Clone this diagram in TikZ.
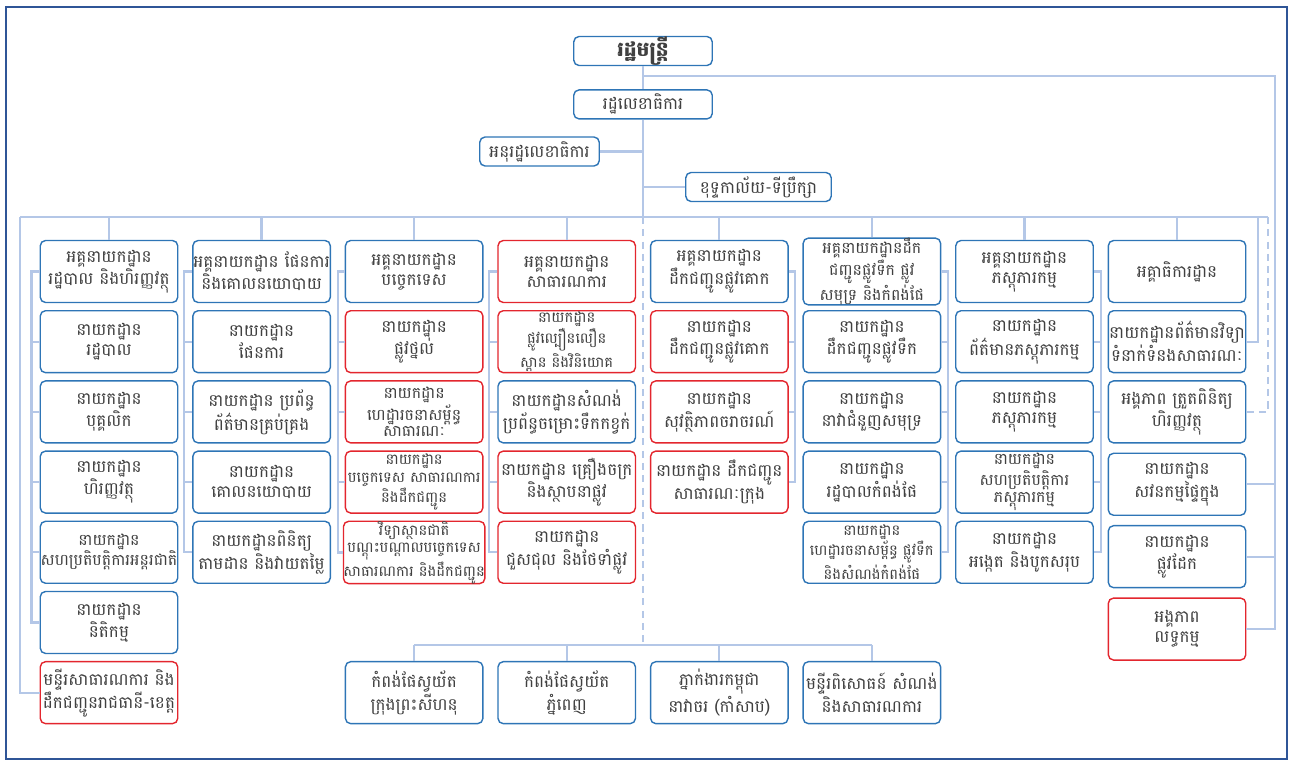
\documentclass[tikz,border=0pt]{standalone}
\usepackage{fontspec}
\newfontfamily\khmer[Script=Khmer]{Battambang}
\usetikzlibrary{positioning}
\definecolor{boxblue}{HTML}{2E75B6}
\definecolor{boxred}{HTML}{E3262E}
\definecolor{linkblue}{HTML}{B4C7E7}
\definecolor{textgray}{HTML}{404040}
\definecolor{frameblue}{HTML}{2F5597}

\begin{document}
\begin{tikzpicture}[x=0.02cm, y=-0.02cm,
  box/.style={draw=boxblue, line width=0.8pt, rounded corners=3pt, fill=white, text=textgray,
    align=center, inner xsep=0pt, inner ysep=0pt, minimum width=2.75cm, minimum height=1.24cm,
    font=\khmer\fontsize{9.6}{11.4}\selectfont},
  redbox/.style={box, draw=boxred},
  smalltext/.style={font=\khmer\fontsize{8.4}{9.8}\selectfont},
  three/.style={font=\khmer\fontsize{9}{9.6}\selectfont},
  tight/.style={font=\khmer\fontsize{9}{11.4}\selectfont},
  topbox/.style={box, minimum height=0.58cm},
  link/.style={draw=linkblue, line width=1.3pt},
  dlink/.style={link, dashed, dash pattern=on 4pt off 3pt}]
\useasboundingbox (0,0) rectangle (1290,764);
\draw[frameblue, line width=0.8pt] (6,7) rectangle (1287,759);

\node (minister) [topbox, minimum width=2.77cm, font=\khmer\bfseries\fontsize{11.5}{12}\selectfont] at (643,51) {រដ្ឋមន្ត្រី};
\node (secretary) [topbox, minimum width=2.77cm, below=0.46cm of minister] {រដ្ឋលេខាធិការ};
\node (under) [topbox, minimum width=2.39cm] at (539.5,151.5) {អនុរដ្ឋលេខាធិការ};
\node (cabinet) [topbox, minimum width=2.91cm] at (758.5,187) {ខុទ្ទកាល័យ-ទីប្រឹក្សា};

\node (g1) [box] at (109,271.5) {អគ្គនាយកដ្ឋាន\\រដ្ឋបាល និងហិរញ្ញវត្ថុ};
\node (a1) [box, below=0.136cm of g1] {នាយកដ្ឋាន\\រដ្ឋបាល};
\node (a2) [box, below=0.136cm of a1] {នាយកដ្ឋាន\\បុគ្គលិក};
\node (a3) [box, below=0.136cm of a2] {នាយកដ្ឋាន\\ហិរញ្ញវត្ថុ};
\node (a4) [box, tight, below=0.136cm of a3] {នាយកដ្ឋាន\\សហប្រតិបត្តិការអន្តរជាតិ};
\node (a5) [box, below=0.136cm of a4] {នាយកដ្ឋាន\\និតិកម្ម};
\node (prov) [redbox, below=0.136cm of a5] {មន្ទីរសាធារណការ និង\\ដឹកជញ្ជូនរាជធានី-ខេត្ត};

\node (g2) [box, right=0.274cm of g1] {អគ្គនាយកដ្ឋាន ផែនការ\\និងគោលនយោបាយ};
\node (b1) [box, below=0.136cm of g2] {នាយកដ្ឋាន\\ផែនការ};
\node (b2) [box, below=0.136cm of b1] {នាយកដ្ឋាន ប្រព័ន្ធ\\ព័ត៌មានគ្រប់គ្រង};
\node (b3) [box, below=0.136cm of b2] {នាយកដ្ឋាន\\គោលនយោបាយ};
\node (b4) [box, below=0.136cm of b3] {នាយកដ្ឋានពិនិត្យ\\តាមដាន និងវាយតម្លៃ};

\node (g3) [box, right=0.274cm of g2] {អគ្គនាយកដ្ឋាន\\បច្ចេកទេស};
\node (c1) [redbox, below=0.136cm of g3] {នាយកដ្ឋាន\\ផ្លូវថ្នល់};
\node (c2) [redbox, three, below=0.136cm of c1] {នាយកដ្ឋាន\\ហេដ្ឋារចនាសម្ព័ន្ធ\\សាធារណៈ};
\node (c3) [redbox, smalltext, below=0.136cm of c2] {នាយកដ្ឋាន\\បច្ចេកទេស សាធារណការ\\និងដឹកជញ្ជូន};
\node (c4) [redbox, smalltext, below=0.136cm of c3] {វិទ្យាស្ថានជាតិ\\បណ្តុះបណ្តាលបច្ចេកទេស\\សាធារណការ និងដឹកជញ្ជូន};

\node (g4) [redbox, right=0.274cm of g3] {អគ្គនាយកដ្ឋាន\\សាធារណការ};
\node (d1) [redbox, smalltext, below=0.136cm of g4] {នាយកដ្ឋាន\\ផ្លូវល្បឿនលឿន\\ស្ពាន និងវិនិយោគ};
\node (d2) [box, below=0.136cm of d1] {នាយកដ្ឋានសំណង់\\ប្រព័ន្ធចម្រោះទឹកកខ្វក់};
\node (d3) [redbox, below=0.136cm of d2] {នាយកដ្ឋាន គ្រឿងចក្រ\\និងស្ថាបនាផ្លូវ};
\node (d4) [redbox, below=0.136cm of d3] {នាយកដ្ឋាន\\ជួសជុល និងថែទាំផ្លូវ};

\node (g5) [box, right=0.274cm of g4] {អគ្គនាយកដ្ឋាន\\ដឹកជញ្ជូនផ្លូវគោក};
\node (e1) [redbox, below=0.136cm of g5] {នាយកដ្ឋាន\\ដឹកជញ្ជូនផ្លូវគោក};
\node (e2) [redbox, below=0.136cm of e1] {នាយកដ្ឋាន\\សុវត្ថិភាពចរាចរណ៍};
\node (e3) [redbox, below=0.136cm of e2] {នាយកដ្ឋាន ដឹកជញ្ជូន\\សាធារណៈក្រុង};

\node (g6) [box, three, right=0.274cm of g5] {អគ្គនាយកដ្ឋានដឹក\\ជញ្ជូនផ្លូវទឹក ផ្លូវ\\សមុទ្រ និងកំពង់ផែ};
\node (f1) [box, right=0.274cm of e1] {នាយកដ្ឋាន\\ដឹកជញ្ជូនផ្លូវទឹក};
\node (f2) [box, below=0.136cm of f1] {នាយកដ្ឋាន\\នាវាជំនួញសមុទ្រ};
\node (f3) [box, below=0.136cm of f2] {នាយកដ្ឋាន\\រដ្ឋបាលកំពង់ផែ};
\node (f4) [box, smalltext, below=0.136cm of f3] {នាយកដ្ឋាន\\ហេដ្ឋារចនាសម្ព័ន្ធ ផ្លូវទឹក\\និងសំណង់កំពង់ផែ};

\node (g7) [box, right=0.274cm of g6] {អគ្គនាយកដ្ឋាន\\ភស្តុភារកម្ម};
\node (h1) [box, below=0.136cm of g7] {នាយកដ្ឋាន\\ព័ត៌មានភស្តុភារកម្ម};
\node (h2) [box, below=0.136cm of h1] {នាយកដ្ឋាន\\ភស្តុភារកម្ម};
\node (h3) [box, three, below=0.136cm of h2] {នាយកដ្ឋាន\\សហប្រតិបត្តិការ\\ភស្តុភារកម្ម};
\node (h4) [box, below=0.136cm of h3] {នាយកដ្ឋាន\\អង្កេត និងបូកសរុប};

\node (g8) [box, right=0.274cm of g7] {អគ្គាធិការដ្ឋាន};
\node (r2) [box, below=0.136cm of g8] {នាយកដ្ឋានព័ត៌មានវិទ្យា\\ទំនាក់ទំនងសាធារណៈ};
\node (r3) [box, below=0.136cm of r2] {អង្គភាព ត្រួតពិនិត្យ\\ហិរញ្ញវត្ថុ};
\node (r4) [box, below=0.18cm of r3] {នាយកដ្ឋាន\\សវនកម្មផ្ទៃក្នុង};
\node (r5) [box, below=0.18cm of r4] {នាយកដ្ឋាន\\ផ្លូវដែក};
\node (r6) [redbox, below=0.18cm of r5] {អង្គភាព\\លទ្ធកម្ម};

\node (p1) [box] at (g3 |- prov) {កំពង់ផែស្វយ័ត\\ក្រុងព្រះសីហនុ};
\node (p2) [box] at (g4 |- prov) {កំពង់ផែស្វយ័ត\\ភ្នំពេញ};
\node (p3) [box] at (g5 |- prov) {ភ្នាក់ងារកម្ពុជា\\នាវាចរ (កាំសាប)};
\node (p4) [box] at (g6 |- prov) {មន្ទីរពិសោធន៍ សំណង់\\និងសាធារណការ};

\coordinate (busL) at (20,217);
\coordinate (busM) at (643,217);
\coordinate (busR) at (1268,217);
\coordinate (busR2) at (1258,217);
\coordinate (rtop) at (1275,76);
\coordinate (pbus) at (643,645);

\draw[link] (minister) to (secretary);
\draw[link] (secretary) to (busM);
\draw[link] (under.east) to (under.east -| busM);
\draw[link] (cabinet.west) to (cabinet.west -| busM);
\draw[link] (busL) to (busR);
\foreach \g in {g1,g2,g3,g4,g5,g6,g7,g8}
  \draw[link] (\g.north) to (\g.north |- busL);
\draw[link] (busL) |- (prov.west);
\draw[link] (busR2) |- (r2.east);
\draw[dlink] (busR) |- (r3.east);
\draw[link] (rtop -| minister) -- (rtop) |- (r6.east);
\foreach \n in {r4,r5}
  \draw[link] (\n.east) to (\n.east -| rtop);

\coordinate (s1) at ([xshift=-0.16cm]g1.west);
\draw[link] (g1.west) -- (s1) |- (a5.west);
\foreach \n in {a1,a2,a3,a4}
  \draw[link] (\n.west) to (\n.west -| s1);
\coordinate (s2) at ([xshift=-0.16cm]g2.west);
\draw[link] (g2.west) -- (s2) |- (b4.west);
\foreach \n in {b1,b2,b3}
  \draw[link] (\n.west) to (\n.west -| s2);
\coordinate (s3) at ([xshift=-0.14cm]g3.west);
\draw[link] (g3.west) -- (s3) |- (c4.west);
\foreach \n in {c1,c2,c3}
  \draw[link] (\n.west) to (\n.west -| s3);
\coordinate (s4) at ([xshift=-0.16cm]g4.west);
\draw[link] (g4.west) -- (s4) |- (d4.west);
\foreach \n in {d1,d2,d3}
  \draw[link] (\n.west) to (\n.west -| s4);
\coordinate (s5) at ([xshift=0.12cm]g5.east);
\draw[link] (g5.east) -- (s5) |- (e3.east);
\foreach \n in {e1,e2}
  \draw[link] (\n.east) to (\n.east -| s5);
\coordinate (s6) at ([xshift=0.14cm]g6.east);
\draw[link] (g6.east) -- (s6) |- (f4.east);
\foreach \n in {f1,f2,f3}
  \draw[link] (\n.east) to (\n.east -| s6);
\coordinate (s7) at ([xshift=0.14cm]g7.east);
\draw[link] (g7.east) -- (s7) |- (h4.east);
\foreach \n in {h1,h2,h3}
  \draw[link] (\n.east) to (\n.east -| s7);

\draw[dlink] (busM) to (pbus);
\draw[link] (p1.north |- pbus) to (p4.north |- pbus);
\foreach \p in {p1,p2,p3,p4}
  \draw[link] (\p.north) to (\p.north |- pbus);
\end{tikzpicture}
\end{document}
